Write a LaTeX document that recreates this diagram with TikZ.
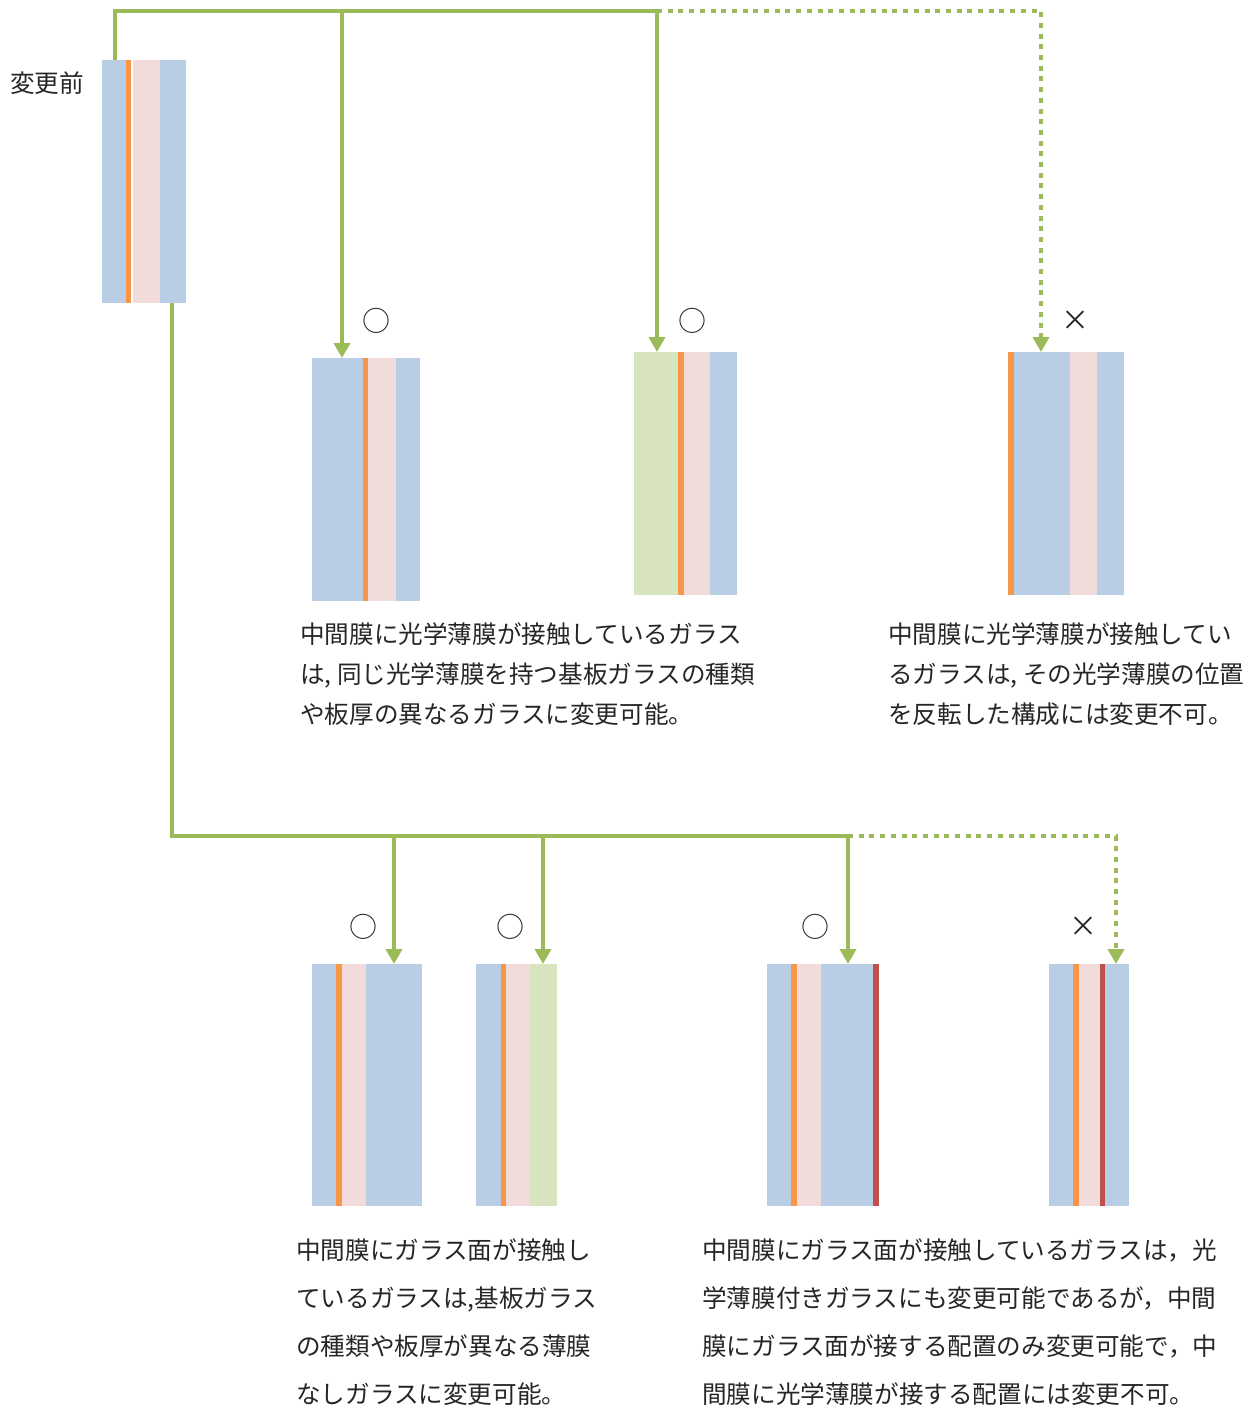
\documentclass[tikz,border=0pt]{standalone}
\usepackage{fontspec}
\setmainfont{Noto Sans CJK JP}
\usetikzlibrary{arrows.meta,fit}
\definecolor{glass}{HTML}{B9CDE4}
\definecolor{film}{HTML}{F79646}
\definecolor{inter}{HTML}{F2DCDB}
\definecolor{tint}{HTML}{D7E4BD}
\definecolor{redfilm}{HTML}{C0504D}
\definecolor{conn}{HTML}{9BBB59}
\definecolor{ink}{HTML}{262626}
\tikzset{
  panelbox/.style={inner sep=0pt,outer sep=0pt,draw=none},
  link/.style={draw=conn,line width=4.5pt},
  linkarrow/.style={link,-{Triangle[width=16pt,length=15pt]}},
  dotlink/.style={link,dash pattern=on 5pt off 5.7pt},
  dotarrow/.style={dotlink,-{Triangle[width=16pt,length=15pt]}},
  txt/.style={anchor=base west,inner sep=0pt,font=\fontsize{24.6pt}{24.6pt}\selectfont,text=ink},
  verdict/.style={inner sep=0pt,font=\fontsize{28pt}{28pt}\selectfont,text=ink}
}
\begin{document}
\begin{tikzpicture}[x=1pt,y=-1pt]
\useasboundingbox[fill=white] (0,0) rectangle (1250,1408);

% ---- panel before change
\foreach \a/\b/\c in {102/126/glass,126/131/film,133/160/inter,160/186/glass}
  \fill[\c] (\a,60) rectangle (\b,303);
\node[panelbox,fit={(102,60) (186,303)}] (p1) {};
\node[txt] (lbl) at (10,92) {変更前};

% ---- top row panels
\foreach \a/\b/\c in {312/363/glass,363/368/film,368/396/inter,396/420/glass}
  \fill[\c] (\a,358) rectangle (\b,601);
\node[panelbox,fit={(312,358) (420,601)}] (p2) {};

\foreach \a/\b/\c in {634/678/tint,678/684/film,684/710/inter,710/737/glass}
  \fill[\c] (\a,352) rectangle (\b,595);
\node[panelbox,fit={(634,352) (737,595)}] (p3) {};

\foreach \a/\b/\c in {1008/1014/film,1014/1070/glass,1070/1097/inter,1097/1124/glass}
  \fill[\c] (\a,352) rectangle (\b,595);
\node[panelbox,fit={(1008,352) (1124,595)}] (p4) {};

% ---- bottom row panels
\foreach \a/\b/\c in {312/336/glass,336/342/film,342/366/inter,366/422/glass}
  \fill[\c] (\a,964) rectangle (\b,1206);
\node[panelbox,fit={(312,964) (422,1206)}] (q1) {};

\foreach \a/\b/\c in {476/501/glass,501/506/film,506/530/inter,530/557/tint}
  \fill[\c] (\a,964) rectangle (\b,1206);
\node[panelbox,fit={(476,964) (557,1206)}] (q2) {};

\foreach \a/\b/\c in {767/791/glass,791/797/film,797/821/inter,821/873/glass,873/879/redfilm}
  \fill[\c] (\a,964) rectangle (\b,1206);
\node[panelbox,fit={(767,964) (879,1206)}] (q3) {};

\foreach \a/\b/\c in {1049/1073/glass,1073/1079/film,1079/1100/inter,1100/1105/redfilm,1105/1129/glass}
  \fill[\c] (\a,964) rectangle (\b,1206);
\node[panelbox,fit={(1049,964) (1129,1206)}] (q4) {};

% ---- verdict marks
\node[verdict] (m1) at (376,321) {○};
\node[verdict] (m2) at (692,321) {○};
\node[verdict] (m3) at (1075,321) {×};
\node[verdict] (n1) at (363,927) {○};
\node[verdict] (n2) at (510,927) {○};
\node[verdict] (n3) at (815,927) {○};
\node[verdict] (n4) at (1083,927) {×};

% ---- connectors, top
\coordinate (t0) at (115,11);
\coordinate (t1) at (342,11);
\coordinate (t2) at (657,11);
\coordinate (t3) at (1041,11);
\draw[link] (t0 |- p1.north) -- (t0) -- (t2);
\draw[linkarrow] (t1) -- (t1 |- p2.north);
\draw[linkarrow] (t2) -- (t2 |- p3.north);
\draw[dotarrow] (t2) -- (t3) -- (t3 |- p4.north);

% ---- connectors, bottom
\coordinate (b0) at (172,836);
\coordinate (b1) at (394,836);
\coordinate (b2) at (543,836);
\coordinate (b3) at (848,836);
\coordinate (b4) at (1116,836);
\draw[link] (b0 |- p1.south) -- (b0) -- (b3);
\draw[linkarrow] (b1) -- (b1 |- q1.north);
\draw[linkarrow] (b2) -- (b2 |- q2.north);
\draw[linkarrow] (b3) -- (b3 |- q3.north);
\draw[dotarrow] (b3) -- (b4) -- (b4 |- q4.north);

% ---- texts
\node[txt] (a1) at (300,643) {中間膜に光学薄膜が接触しているガラス};
\node[txt] (a2) at (300,683) {は, 同じ光学薄膜を持つ基板ガラスの種類};
\node[txt] (a3) at (300,723) {や板厚の異なるガラスに変更可能。};

\node[txt] (c1) at (888,643) {中間膜に光学薄膜が接触してい};
\node[txt] (c2) at (888,683) {るガラスは, その光学薄膜の位置};
\node[txt] (c3) at (888,723) {を反転した構成には変更不可。};

\node[txt] (d1) at (296,1259) {中間膜にガラス面が接触し};
\node[txt] (d2) at (296,1307) {ているガラスは,基板ガラス};
\node[txt] (d3) at (296,1355) {の種類や板厚が異なる薄膜};
\node[txt] (d4) at (296,1403) {なしガラスに変更可能。};

\node[txt] (e1) at (702,1259) {中間膜にガラス面が接触しているガラスは，光};
\node[txt] (e2) at (702,1307) {学薄膜付きガラスにも変更可能であるが，中間};
\node[txt] (e3) at (702,1355) {膜にガラス面が接する配置のみ変更可能で，中};
\node[txt] (e4) at (702,1403) {間膜に光学薄膜が接する配置には変更不可。};
\end{tikzpicture}
\end{document}
